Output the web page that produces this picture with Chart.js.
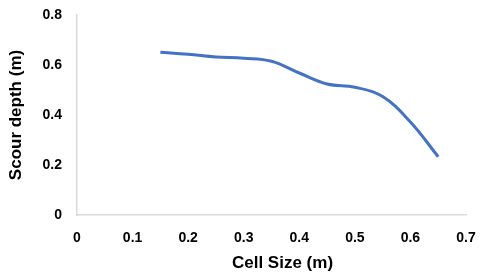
<!DOCTYPE html>
<html>
<head>
<meta charset="utf-8">
<script src="https://cdn.jsdelivr.net/npm/chart.js@4/dist/chart.umd.min.js"></script>
<style>
  html, body { margin: 0; padding: 0; background: #fff; }
  #wrap { width: 480px; height: 277px; }
</style>
</head>
<body>
<div id="wrap"><canvas id="chart"></canvas></div>
<script>
// values
const cellSize = [0.15, 0.2, 0.25, 0.3, 0.35, 0.4, 0.45, 0.5, 0.55, 0.6, 0.65];
const scourDepth = [0.651, 0.643, 0.632, 0.627, 0.615, 0.568, 0.524, 0.511, 0.474, 0.372, 0.233];
const xTicks = [0, 0.1, 0.2, 0.3, 0.4, 0.5, 0.6, 0.7];
const yTicks = [0, 0.2, 0.4, 0.6, 0.8];
const xTitle = 'Cell Size (m)';

const tickFont = { family: 'Liberation Sans', size: 14, weight: 'bold' };
const titleFont = { family: 'Liberation Sans', size: 17, weight: 'bold' };

// x title sits a bit right of the plot centre in the original
const xTitlePlugin = {
    id: 'xTitle',
    afterDraw(chart) {
        const c = chart.ctx;
        const a = chart.chartArea;
        c.save();
        c.font = 'bold 17px "Liberation Sans"';
        c.fillStyle = '#000';
        c.textAlign = 'center';
        c.textBaseline = 'middle';
        c.fillText(xTitle, (a.left + a.right) / 2 + 11, 263);
        c.restore();
    }
};

const ctx = document.getElementById('chart').getContext('2d');
new Chart(ctx, {
    type: 'scatter',
    data: {
        datasets: [{
            data: cellSize.map((x, i) => ({ x: x, y: scourDepth[i] })),
            showLine: true,
            borderColor: '#4472C4',
            borderWidth: 3,
            pointRadius: 0,
            tension: 0.4
        }]
    },
    options: {
        responsive: true,
        maintainAspectRatio: false,
        animation: false,
        layout: { padding: { top: 15, right: 14, left: 0, bottom: 0 } },
        plugins: {
            legend: { display: false },
            tooltip: { enabled: false }
        },
        scales: {
            x: {
                type: 'linear',
                min: 0,
                max: 0.7,
                afterBuildTicks: s => { s.ticks = xTicks.map(v => ({ value: v })); },
                afterFit: s => { s.height = 62; s.paddingLeft = 0; s.paddingRight = 0; },
                grid: { display: false, drawTicks: false },
                border: { color: '#d9d9d9', width: 1.5 },
                ticks: { color: '#000', font: tickFont, padding: 15, maxRotation: 0 }
            },
            y: {
                min: 0,
                max: 0.8,
                afterBuildTicks: s => { s.ticks = yTicks.map(v => ({ value: v })); },
                afterFit: s => { s.width = 77; s.paddingTop = 0; s.paddingBottom = 0; },
                grid: { display: false, drawTicks: false },
                border: { color: '#d9d9d9', width: 1.5 },
                ticks: { color: '#000', font: tickFont, padding: 15 },
                title: { display: true, text: 'Scour depth (m)', color: '#000', font: titleFont, padding: { top: 6, bottom: 0 } }
            }
        }
    },
    plugins: [xTitlePlugin]
});
</script>
</body>
</html>
